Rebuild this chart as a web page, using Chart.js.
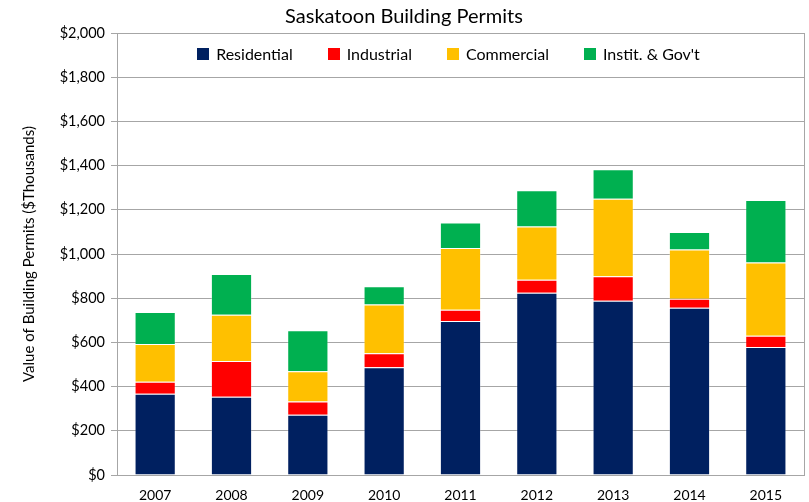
<!DOCTYPE html>
<html>
<head>
<meta charset="utf-8">
<script src="https://cdn.jsdelivr.net/npm/chart.js@4"></script>
<style>
  html, body { margin: 0; padding: 0; background: #fff; }
  #wrap { width: 809px; height: 502px; }
</style>
</head>
<body>
<div id="wrap"><canvas id="permitsChart" width="809" height="502"></canvas></div>
<script>
const years = ['2007', '2008', '2009', '2010', '2011', '2012', '2013', '2014', '2015'];
const residential = [368, 354, 273, 487, 697, 825, 789, 757, 579];
const industrial = [54, 162, 60, 64, 51, 59, 110, 41, 51];
const commercial = [171, 209, 136, 221, 279, 240, 351, 222, 332];
const institGov = [145, 184, 186, 82, 116, 164, 133, 80, 282];

const fontFamily = 'Lato, "Open Sans", sans-serif';

// title, box around plot area and a one-row legend inside the plot
const framePlugin = {
    id: 'frame',
    afterDraw(chart) {
        const ctx = chart.ctx;
        const a = chart.chartArea;
        ctx.save();
        ctx.strokeStyle = '#a6a6a6';
        ctx.lineWidth = 1;
        ctx.strokeRect(Math.round(a.left) + 0.5, Math.round(a.top) + 0.5, Math.round(a.right - a.left), Math.round(a.bottom - a.top));

        ctx.fillStyle = '#000';
        ctx.font = '20px ' + fontFamily;
        ctx.textAlign = 'center';
        ctx.textBaseline = 'middle';
        ctx.fillText('Saskatoon Building Permits', 404, 17);

        // legend
        ctx.font = '16px ' + fontFamily;
        const box = 12, gap = 7, spacing = 35;
        const items = chart.data.datasets.map(d => ({ label: d.label, color: d.backgroundColor, w: ctx.measureText(d.label).width }));
        let total = items.reduce((s, it) => s + box + gap + it.w, 0) + spacing * (items.length - 1);
        let x = (a.left + a.right) / 2 - 12 - total / 2;
        const y = a.top + 21;
        ctx.textAlign = 'left';
        items.forEach(it => {
            ctx.fillStyle = it.color;
            ctx.fillRect(Math.round(x), y - box / 2, box, box);
            ctx.fillStyle = '#000';
            ctx.fillText(it.label, x + box + gap, y + 1);
            x += box + gap + it.w + spacing;
        });
        ctx.restore();
    }
};

const ds = (label, data, color) => ({
    label: label,
    data: data,
    backgroundColor: color,
    borderColor: 'rgba(255,255,255,0.25)',
    borderWidth: 1,
    categoryPercentage: 1,
    barPercentage: 0.54
});

new Chart(document.getElementById('permitsChart'), {
    type: 'bar',
    data: {
        labels: years,
        datasets: [
            ds('Residential', residential, '#002060'),
            ds('Industrial', industrial, '#ff0000'),
            ds('Commercial', commercial, '#ffc000'),
            ds("Instit. & Gov't", institGov, '#00b050')
        ]
    },
    options: {
        responsive: false,
        animation: false,
        layout: { padding: { top: 33, right: 5, left: 0, bottom: 0 } },
        plugins: {
            title: { display: false },
            tooltip: { enabled: false },
            legend: { display: false }
        },
        scales: {
            x: {
                stacked: true,
                grid: { display: false },
                border: { color: '#a6a6a6' },
                ticks: { color: '#000', font: { family: fontFamily, size: 14 }, padding: 4 },
                afterFit(scale) { scale.height = 27; }
            },
            y: {
                stacked: true,
                min: 0,
                max: 2000,
                grid: { color: '#a6a6a6', tickLength: 6, drawTicks: true },
                border: { color: '#a6a6a6' },
                ticks: {
                    stepSize: 200,
                    color: '#000',
                    padding: 6,
                    font: { family: fontFamily, size: 14.5 },
                    callback: (v) => '$' + v.toLocaleString('en-US')
                },
                title: {
                    display: true,
                    text: 'Value of Building Permits ($Thousands)',
                    color: '#000',
                    font: { family: fontFamily, size: 15 },
                    padding: { top: 20, bottom: 10 }
                },
                afterFit(scale) { scale.width = 117; }
            }
        }
    },
    plugins: [framePlugin]
});
</script>
</body>
</html>
